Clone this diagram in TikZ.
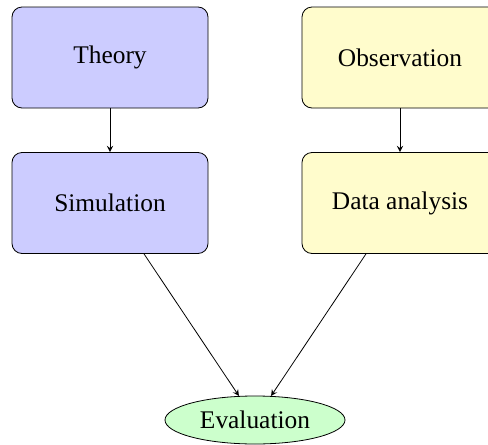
\documentclass[tikz,border=0pt]{standalone}
\usepackage{fontspec}
\setmainfont{Liberation Serif}
\usetikzlibrary{shapes.geometric}
\begin{document}
\begin{tikzpicture} [x=0.5pt, y=-0.5pt, >=stealth,
    stage/.style={draw, rounded corners=5pt, minimum width=98pt, minimum height=50.5pt},
    result/.style={draw, ellipse, fill=green!20, minimum width=90pt, minimum height=24pt, inner sep=0pt},
    font=\fontsize{12.7}{15}\selectfont]
    \useasboundingbox (0,0) rectangle (488,445);
    \node [stage, fill=blue!20] (theory) at (110,57.5) {Theory};
    \node [stage, fill=yellow!20] (observation) at (400,57.5) {Observation};
    \node [stage, fill=blue!20] (simulation) at (110,203) {Simulation};
    \node [stage, fill=yellow!20] (analysis) at (400,203) {Data analysis};
    \node [result] (evaluation) at (255,420) {Evaluation};
    \draw [->] (theory) -- (simulation);
    \draw [->] (observation) -- (analysis);
    \draw [->] (simulation) -- (evaluation);
    \draw [->] (analysis) -- (evaluation);
  \end{tikzpicture}
\end{document}
